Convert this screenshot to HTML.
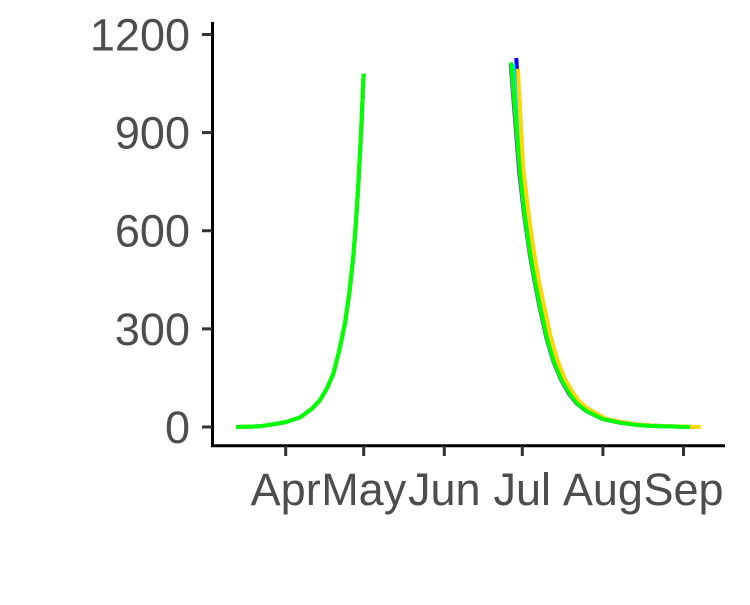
<!DOCTYPE html>
<html><head><meta charset="utf-8"><style>
html,body{margin:0;padding:0;background:#fff;}
svg text{font-family:"Liberation Sans",Arial,sans-serif;fill:#4d4d4d;font-size:45px;}
</style></head><body>
<svg id="chart" width="750" height="600" xmlns="http://www.w3.org/2000/svg">
<g id="axes"></g>
<g id="lines"></g>
</svg>
<script>
// data: days since Apr 1
const yTicks = [0, 300, 600, 900, 1200];
const xTickLabels = ["Apr", "May", "Jun", "Jul", "Aug", "Sep"];
const xTickDays = [0, 30, 61, 91, 122, 153];
const leftDays = [-19, -10, -5, 0, 5.5, 10, 13.2, 16, 18.3, 20.5, 22.8, 24.5, 26, 27, 28, 29, 30];
const leftValues = [0, 2, 8, 15, 29, 55, 82, 120, 162, 230, 316, 410, 520, 620, 750, 900, 1080];
const seriesNames = ["blue", "purple", "cyan", "yellow", "green"];
const seriesColors = ["#0000ff", "#a020f0", "#00e5ee", "#ffd700", "#00ff00"];
const rightDays = [
  [88.7, 91, 93, 95, 97, 99, 101.5, 104, 107, 110.5, 113, 117, 123, 130, 136, 142, 157],
  [86.5, 89.8, 91.8, 93.8, 95.8, 97.6, 100.3, 102.8, 105.8, 109, 111.8, 115.5, 121.8, 128.4, 135, 141, 155],
  [87.5, 90.5, 92.5, 94.5, 96.5, 98.4, 101, 103.6, 106.6, 109.8, 112.5, 116.4, 122.5, 129.3, 135.5, 141.6, 156],
  [89.3, 91.4, 93.4, 95.3, 97.3, 99.2, 101.8, 104.3, 107.3, 110.6, 113.3, 117, 123.3, 130, 136.3, 142.3, 159.6],
  [86.7, 90.1, 92, 94, 96, 97.8, 100.5, 103, 106, 109.3, 112, 115.7, 122, 128.6, 135, 141, 155.5]
];
const rightValues = [
  [1128, 800, 660, 550, 450, 380, 280, 210, 148, 105, 75, 52, 25, 14, 7, 4, 0],
  [1110, 776, 640, 530, 440, 367, 270, 203, 145, 100, 72, 49, 24, 13, 6, 3, 0],
  [1110, 785, 650, 540, 445, 372, 275, 206, 146, 102, 73, 50, 24, 13, 6, 3, 0],
  [1095, 790, 655, 545, 450, 378, 280, 210, 148, 104, 75, 52, 25, 14, 7, 4, 0],
  [1115, 776, 640, 530, 440, 367, 270, 203, 145, 100, 72, 49, 24, 13, 6, 3, 0]
];
const NS = "http://www.w3.org/2000/svg";
const xS = d => 285.7 + d * 2.6;
const yS = v => 427 - v * 0.3271;
function mk(tag, attrs, parent){ const e = document.createElementNS(NS, tag); for (const k in attrs) e.setAttribute(k, attrs[k]); parent.appendChild(e); return e; }
const axes = document.getElementById('axes');
const lines = document.getElementById('lines');
let a = mk('line', {x1:212.5, y1:22, x2:212.5, y2:447, stroke:'#000', 'stroke-width':3}, axes);


a = mk('line', {x1:211, y1:445.7, x2:725, y2:445.7, stroke:'#000', 'stroke-width':3}, axes);


yTicks.forEach(v => {
  const t = mk('line', {x1:202, y1:yS(v), x2:212, y2:yS(v), stroke:'#333', 'stroke-width':3}, axes);
  
  
  const l = mk('text', {x:190, y:yS(v) + 16, 'text-anchor':'end'}, axes);
  l.textContent = v;
  
  
});
xTickDays.forEach((d, i) => {
  const t = mk('line', {x1:xS(d), y1:446, x2:xS(d), y2:456, stroke:'#333', 'stroke-width':3}, axes);
  
  
  const l = mk('text', {x:xS(d), y:505, 'text-anchor':'middle'}, axes);
  l.textContent = xTickLabels[i];
  
  
});
function path(xs, ys){ return xs.map((d, i) => (i ? 'L' : 'M') + xS(d).toFixed(1) + ',' + yS(ys[i]).toFixed(1)).join(''); }
seriesNames.forEach((n, s) => {
  const p = mk('path', {d: path(leftDays, leftValues) + path(rightDays[s], rightValues[s]), fill:'none', stroke:seriesColors[s], 'stroke-width':4, 'stroke-linejoin':'round'}, lines);
  
  
});
</script>
</body></html>
